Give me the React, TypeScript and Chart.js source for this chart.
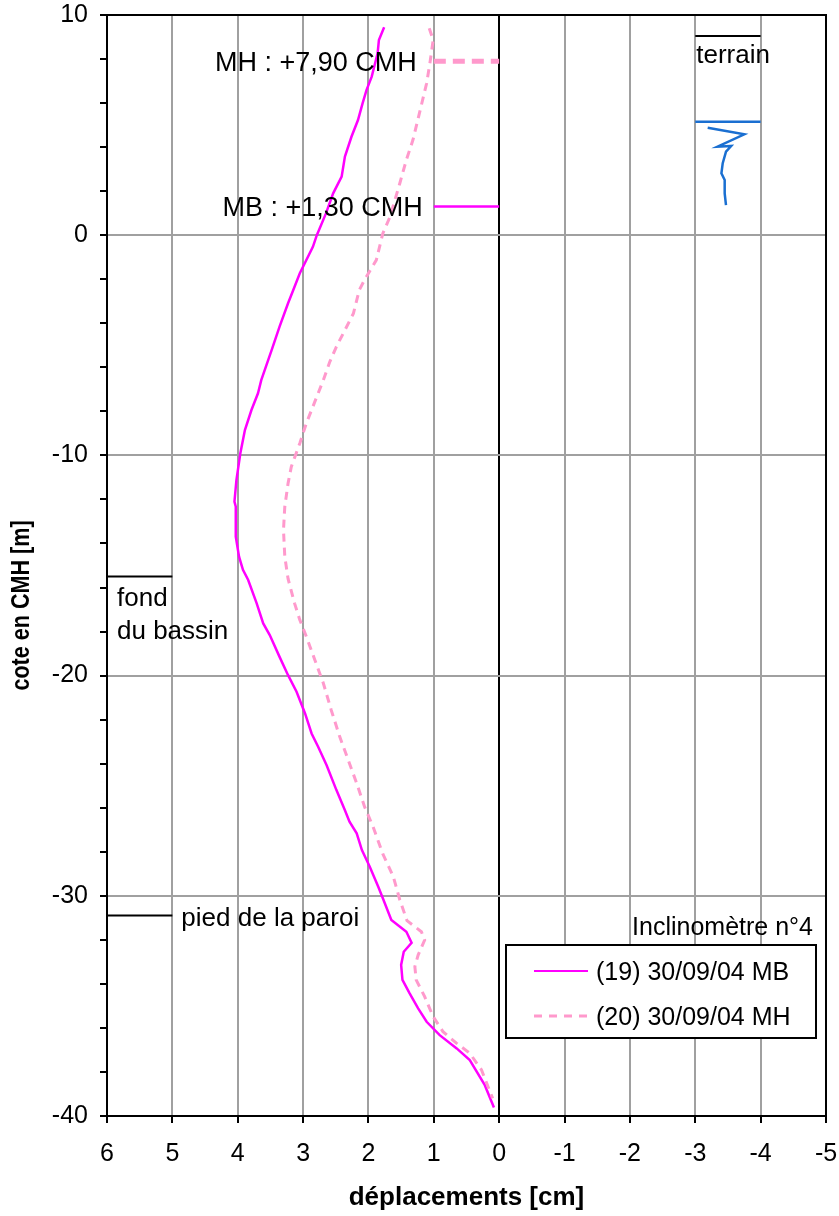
import { useEffect, useRef } from "react";
import { Chart, registerables } from "chart.js";

Chart.register(...registerables);

const FONT = '"Liberation Sans", Arial, Helvetica, sans-serif';

// Inclinometer profile (19) 30/09/04 MB : level in CMH [m] / displacement [cm]
const MB_LEVELS = [
  9.44, 8.86, 8.26, 7.2, 6.59, 5.99, 5.23, 4.47, 3.57, 2.66, 1.9, 0.99, 0.0, -0.53, -1.73, -2.49,
  -3.09, -4.15, -5.21, -6.58, -7.18, -7.94, -8.85, -9.9, -11.12, -12.1, -12.33, -13.69, -14.6,
  -15.2, -15.66, -16.72, -17.63, -18.16, -19.15, -19.98, -20.73, -21.72, -22.63, -23.23, -24.07,
  -25.2, -26.11, -26.63, -27.16, -27.92, -28.68, -29.59, -30.11, -31.1, -31.63, -32.13, -32.54,
  -33.14, -33.82, -34.43, -35.11, -35.72, -36.33, -36.93, -37.46, -38.6, -39.61,
];
const MB_DISP = [
  1.76, 1.84, 1.86, 1.95, 2.03, 2.09, 2.16, 2.26, 2.36, 2.41, 2.54, 2.65, 2.79, 2.85, 3.05, 3.15,
  3.23, 3.36, 3.48, 3.64, 3.69, 3.79, 3.89, 3.96, 4.02, 4.05, 4.03, 4.03, 3.98,
  3.92, 3.84, 3.71, 3.61, 3.51, 3.36, 3.23, 3.1, 2.97, 2.87, 2.77, 2.64,
  2.49, 2.36, 2.29, 2.18, 2.1, 1.98, 1.85, 1.78, 1.65, 1.42, 1.34, 1.46,
  1.5, 1.48, 1.37, 1.24, 1.11, 0.91, 0.65, 0.45, 0.22, 0.08,
];

// Inclinometer profile (20) 30/09/04 MH
const MH_LEVELS = [
  9.4, 8.86, 7.81, 6.9, 5.54, 4.32, 3.42, 2.36, 0.84, 0.08, -1.13, -2.03, -2.49, -3.55, -4.31,
  -5.06, -5.74, -6.58, -7.56, -8.54, -9.45, -10.51, -11.27, -12.33, -13.39, -14.6, -15.6, -16.72,
  -17.47, -18.23, -19.29, -20.35, -21.56, -22.77, -23.83, -24.89, -25.95, -26.86, -28.1, -29.13,
  -30.19, -31.13, -31.63, -32.01, -32.69, -33.22, -33.82, -34.58, -35.49, -36.17, -36.7, -37.15,
  -37.91, -39.2,
];
const MH_DISP = [
  1.07, 1.01, 1.06, 1.11, 1.22, 1.32, 1.42, 1.52, 1.67, 1.78, 1.88, 2.06, 2.14, 2.23, 2.36,
  2.49, 2.59, 2.69, 2.82, 2.95, 3.05, 3.18, 3.23, 3.28, 3.3, 3.28, 3.23, 3.13,
  3.05, 2.95, 2.82, 2.69, 2.57, 2.44, 2.31, 2.18, 2.06, 1.93, 1.78, 1.62,
  1.52, 1.41, 1.19, 1.14, 1.24, 1.29, 1.27, 1.14, 1.01, 0.86, 0.65, 0.45,
  0.27, 0.1,
];

// Water level symbol drawn in the "terrain" column
const WATER_SYMBOL_X = [-3.19, -3.75, -3.34, -3.55, -3.47, -3.42, -3.4, -3.45, -3.45, -3.47];
const WATER_SYMBOL_Y = [4.88, 4.58, 4.02, 4.05, 3.79, 3.27, 2.81, 2.51, 1.9, 1.37];

// Reference levels [m CMH]
const MH_LEVEL = 7.9;
const MB_LEVEL = 1.3;
const TERRAIN_LEVEL = 9.05;
const WATER_LEVEL = 5.15;
const FOND_LEVEL = -15.5;
const PIED_LEVEL = -30.9;

// Axis limits
const X_MIN = -5;
const X_MAX = 6;
const Y_MIN = -40;
const Y_MAX = 10;

const SERIES_LABELS = ["(19) 30/09/04 MB", "(20) 30/09/04 MH"];
const LEGEND_TITLE = "Inclinomètre n°4";
const X_TITLE = "déplacements [cm]";
const Y_TITLE = "cote en CMH [m]";

const MB_COLOR = "#FF00FF";
const MH_COLOR = "#FF99CC";
const WATER_COLOR = "#1A6FD1";
const GRID_COLOR = "#A0A0A0";

const fmtLevel = (v: number) => (v >= 0 ? "+" : "") + v.toFixed(2).replace(".", ",");
const MH_LABEL = `MH : ${fmtLevel(MH_LEVEL)} CMH`;
const MB_LABEL = `MB : ${fmtLevel(MB_LEVEL)} CMH`;

const zipPoints = (xs: number[], ys: number[]) => xs.map((x, i) => ({ x, y: ys[i] }));
const segment = (x0: number, x1: number, y: number) => [
  { x: x0, y },
  { x: x1, y },
];

const overlayPlugin = {
  id: "profileOverlay",
  afterDraw(chart: any) {
    const { ctx, chartArea: a, scales } = chart;
    const x = scales.x;
    const y = scales.y;
    ctx.save();

    // frame: top and right edges
    ctx.strokeStyle = "#000";
    ctx.lineWidth = 2;
    ctx.beginPath();
    ctx.moveTo(a.left, a.top);
    ctx.lineTo(a.right, a.top);
    ctx.lineTo(a.right, a.bottom);
    ctx.stroke();

    ctx.fillStyle = "#000";

    // vertical axis title, condensed, set a little below the middle of the plot
    ctx.save();
    ctx.font = `bold 26px ${FONT}`;
    ctx.translate(22, (a.top + a.bottom) / 2 + 40);
    ctx.rotate(-Math.PI / 2);
    ctx.scale(0.83, 1);
    ctx.textAlign = "center";
    ctx.textBaseline = "middle";
    ctx.fillText(Y_TITLE, 0, 0);
    ctx.restore();

    // level labels
    ctx.font = `27px ${FONT}`;
    ctx.textAlign = "right";
    ctx.textBaseline = "middle";
    ctx.fillText(MH_LABEL, x.getPixelForValue(1) - 17, y.getPixelForValue(MH_LEVEL) + 2);
    ctx.fillText(MB_LABEL, x.getPixelForValue(1) - 11, y.getPixelForValue(MB_LEVEL) + 2);

    ctx.font = `26px ${FONT}`;
    ctx.textAlign = "left";
    ctx.textBaseline = "alphabetic";
    ctx.fillText("terrain", x.getPixelForValue(-3) + 1, y.getPixelForValue(TERRAIN_LEVEL) + 27);
    ctx.fillText("fond", x.getPixelForValue(6) + 10, y.getPixelForValue(FOND_LEVEL) + 29);
    ctx.fillText("du bassin", x.getPixelForValue(6) + 10, y.getPixelForValue(FOND_LEVEL) + 62);
    ctx.fillText("pied de la paroi", x.getPixelForValue(5) + 9, y.getPixelForValue(PIED_LEVEL) + 10);

    // legend
    ctx.font = `25px ${FONT}`;
    const boxRight = a.right - 10;
    const boxBottom = a.bottom - 78;
    const boxW = 310;
    const boxH = 93;
    const boxLeft = boxRight - boxW;
    const boxTop = boxBottom - boxH;

    ctx.textAlign = "right";
    ctx.fillText(LEGEND_TITLE, boxRight - 3, boxTop - 10);

    ctx.fillStyle = "#fff";
    ctx.fillRect(boxLeft, boxTop, boxW, boxH);
    ctx.strokeStyle = "#000";
    ctx.lineWidth = 2;
    ctx.strokeRect(boxLeft, boxTop, boxW, boxH);

    const ds = chart.data.datasets;
    [0, 1].forEach((idx, row) => {
      const d = ds[idx];
      const ly = boxTop + 26 + row * 45;
      ctx.save();
      ctx.strokeStyle = d.borderColor;
      ctx.lineWidth = idx === 0 ? 2 : 3;
      ctx.setLineDash(idx === 0 ? [] : [8, 7]);
      ctx.beginPath();
      ctx.moveTo(boxLeft + 28, ly);
      ctx.lineTo(boxLeft + 82, ly);
      ctx.stroke();
      ctx.restore();
      ctx.fillStyle = "#000";
      ctx.textAlign = "left";
      ctx.textBaseline = "middle";
      ctx.fillText(d.label, boxLeft + 90, ly + 2);
    });

    ctx.restore();
  },
};

export default function App() {
  const canvasRef = useRef<HTMLCanvasElement | null>(null);

  useEffect(() => {
    const canvas = canvasRef.current;
    if (!canvas) return;

    const line = (data: any[], color: string, width: number, dash: number[] = []) => ({
      data,
      showLine: true,
      borderColor: color,
      backgroundColor: color,
      borderWidth: width,
      borderDash: dash,
      pointRadius: 0,
      tension: 0,
      fill: false,
    });

    const chart = new Chart(canvas, {
      type: "scatter",
      data: {
        datasets: [
          { label: SERIES_LABELS[0], ...line(zipPoints(MB_DISP, MB_LEVELS), MB_COLOR, 2.5), order: 1 },
          { label: SERIES_LABELS[1], ...line(zipPoints(MH_DISP, MH_LEVELS), MH_COLOR, 3, [8, 6]), order: 0 },
          { label: "MB", ...line(segment(1, 0, MB_LEVEL), MB_COLOR, 2.5), order: 2 },
          { label: "MH", ...line(segment(1, 0, MH_LEVEL), MH_COLOR, 5, [12, 7]), order: 2 },
          { label: "terrain", ...line(segment(-3, -4, TERRAIN_LEVEL), "#000", 2), order: 2 },
          { label: "nappe", ...line(segment(-3, -4, WATER_LEVEL), WATER_COLOR, 2.5), order: 2 },
          { label: "nappe symbole", ...line(zipPoints(WATER_SYMBOL_X, WATER_SYMBOL_Y), WATER_COLOR, 2.5), order: 2 },
          { label: "fond", ...line(segment(6, 5, FOND_LEVEL), "#000", 2), order: 2 },
          { label: "pied", ...line(segment(6, 5, PIED_LEVEL), "#000", 2), order: 2 },
        ],
      },
      options: {
        responsive: false,
        animation: false,
        layout: { padding: { left: 0, top: 15, right: 13, bottom: 0 } },
        plugins: {
          legend: { display: false },
          tooltip: { enabled: false },
        },
        scales: {
          x: {
            type: "linear",
            min: X_MIN,
            max: X_MAX,
            reverse: true,
            afterFit: (s: any) => {
              s.height = 100;
              s.paddingLeft = 0;
              s.paddingRight = 0;
            },
            ticks: {
              stepSize: 1,
              autoSkip: false,
              color: "#000",
              padding: 16,
              font: { family: FONT, size: 25 },
            },
            grid: {
              color: (c: any) => (c.tick && c.tick.value === 0 ? "#000" : GRID_COLOR),
              lineWidth: 2,
              tickColor: "#000",
              tickLength: 7,
              tickWidth: 2,
            },
            border: { color: "#000", width: 2 },
            title: {
              display: true,
              text: X_TITLE,
              color: "#000",
              padding: { top: 0, bottom: 3 },
              font: { family: FONT, size: 26, weight: "bold" },
            },
          },
          y: {
            type: "linear",
            min: Y_MIN,
            max: Y_MAX,
            afterFit: (s: any) => {
              s.width = 107;
              s.paddingTop = 0;
              s.paddingBottom = 0;
            },
            ticks: {
              stepSize: 2,
              autoSkip: false,
              color: "#000",
              padding: 12,
              font: { family: FONT, size: 25 },
              callback: (v: any) => (Math.abs(Number(v) % 10) < 1e-6 ? String(Math.round(Number(v))) : ""),
            },
            grid: {
              color: (c: any) =>
                c.tick && Math.abs(c.tick.value % 10) < 1e-6 ? GRID_COLOR : "rgba(0,0,0,0)",
              lineWidth: 2,
              tickColor: "#000",
              tickLength: 7,
              tickWidth: 2,
            },
            border: { color: "#000", width: 2 },
            title: { display: false },
          },
        },
      },
      plugins: [overlayPlugin],
    } as any);

    return () => chart.destroy();
  }, []);

  return (
    <div style={{ position: "absolute", left: 0, top: 0, width: 839, height: 1216, background: "#fff" }}>
      <canvas ref={canvasRef} width={839} height={1216} style={{ display: "block" }} />
    </div>
  );
}
